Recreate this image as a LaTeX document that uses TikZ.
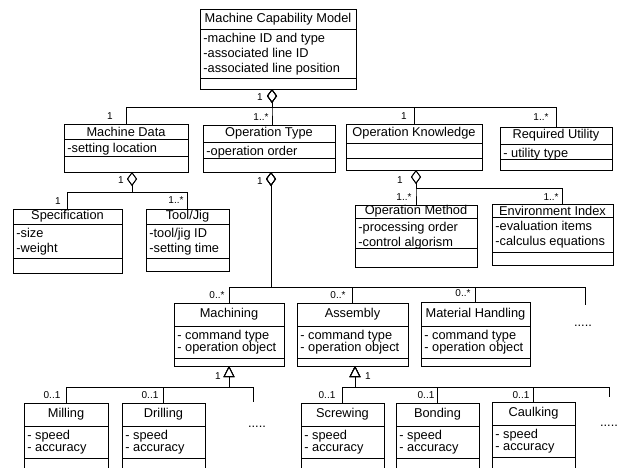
\documentclass[tikz,border=0pt]{standalone}
\usepackage{fontspec}
\setmainfont{Liberation Sans}
\usetikzlibrary{arrows.meta}
% class box: name, left, top, right, bottom, first divider, second divider, title, attributes
\newcommand\umlclass[9]{%
  \node[cls, minimum width={(#4-#2)*1pt}, minimum height={(#5-#3)*1pt}] (#1) at (#2,#3) {};
  \draw (#2,#6) -- (#4,#6) (#2,#7) -- (#4,#7);
  \node[ttl] (#1-t) at ({(#2+#4)/2},{(#3+#6)/2}) {#8};
  \node[att] (#1-a) at (#2,#6) {#9};
}

\begin{document}
\begin{tikzpicture}[x=1pt,y=-1pt,line width=0.8pt]
    \tikzstyle{cls}=[draw, rectangle, anchor=north west, inner sep=0pt, outer sep=0pt]
    \tikzstyle{ttl}=[font=\fontsize{12.8}{15}\selectfont, inner sep=0pt]
    \tikzstyle{att}=[font=\fontsize{12.8}{15}\selectfont, align=left, anchor=north west, inner xsep=3pt, inner ysep=3.5pt]
    \tikzstyle{lbl}=[font=\fontsize{10}{12}\selectfont, inner sep=0pt]
    \tikzstyle{ellip}=[font=\fontsize{12.8}{15}\selectfont, anchor=base, inner sep=0pt]
    \tikzstyle{agg}=[{Diamond[open,length=14pt,width=10pt]}-]
    \tikzstyle{gen}=[{Triangle[open,length=11pt,width=11pt]}-]

    \clip (0,0) rectangle (619,467);

    \umlclass{mcm}{200}{9}{356}{89}{29}{78}{Machine Capability Model}{-machine ID and type\\-associated line ID\\-associated line position}
    \umlclass{mdata}{64}{124}{188}{172}{139}{156}{Machine Data}{-setting location}
    \umlclass{opt}{203}{125}{335}{172}{142}{158}{Operation Type}{-operation order}
    \umlclass{ok}{346}{124}{482}{170}{143}{158}{Operation Knowledge}{}
    \umlclass{ru}{500}{127}{612}{170}{144}{159}{Required Utility}{- utility type}
    \umlclass{spec}{13}{209}{122}{273}{224}{258}{Specification}{-size\\-weight}
    \umlclass{tool}{146}{209}{229}{271}{224}{258}{Tool/Jig}{-tool/jig ID\\-setting time}
    \umlclass{om}{355}{205}{477}{267}{218}{248}{Operation Method}{-processing order\\-control algorism}
    \umlclass{ei}{492}{204}{613}{265}{217}{252}{Environment Index}{-evaluation items\\-calculus equations}
    \umlclass{mach}{174}{303}{284}{366}{326}{358}{Machining}{- command type\\[-3pt]- operation object}
    \umlclass{asm}{297}{303}{408}{366}{326}{358}{Assembly}{- command type\\[-3pt]- operation object}
    \umlclass{mh}{421}{302}{530}{366}{326}{358}{Material Handling}{- command type\\[-3pt]- operation object}
    \umlclass{mill}{24}{403}{108}{475}{426}{458}{Milling}{- speed\\[-3pt]- accuracy}
    \umlclass{drill}{122}{403}{205}{475}{426}{458}{Drilling}{- speed\\[-3pt]- accuracy}
    \umlclass{screw}{301}{403}{384}{475}{426}{458}{Screwing}{- speed\\[-3pt]- accuracy}
    \umlclass{bond}{396}{403}{479}{475}{426}{458}{Bonding}{- speed\\[-3pt]- accuracy}
    \umlclass{caulk}{492}{402}{575}{475}{425}{457}{Caulking}{- speed\\[-3pt]- accuracy}

    \coordinate (mh-more) at (585,305);
    \coordinate (mach-more) at (253,402);
    \coordinate (asm-more) at (609,397);

    % aggregations
    \draw[agg] ([xshift=-6pt]mcm.south) -- ++(0,18) -| (mdata.north);
    \draw[agg] ([xshift=-6pt]mcm.south) -- ++(0,18) -| ([xshift=3pt]opt.north);
    \draw[agg] ([xshift=-6pt]mcm.south) -- ++(0,18) -| (ok.north);
    \draw[agg] ([xshift=-6pt]mcm.south) -- ++(0,18) -| (ru.north);
    \draw[agg] ([xshift=6pt]mdata.south) -- ++(0,20) -| (spec.north);
    \draw[agg] ([xshift=6pt]mdata.south) -- ++(0,20) -| (tool.north);
    \draw[agg] ([xshift=2pt]ok.south) -- ++(0,18) -| (om.north);
    \draw[agg] ([xshift=2pt]ok.south) -- ++(0,18) -| ([xshift=10pt]ei.north);
    \draw[agg] ([xshift=2pt]opt.south) -- ++(0,115) -| (mach.north);
    \draw[agg] ([xshift=2pt]opt.south) -- ++(0,115) -| (asm.north);
    \draw[agg] ([xshift=2pt]opt.south) -- ++(0,115) -| (mh.north);
    \draw[agg] ([xshift=2pt]opt.south) -- ++(0,115) -| (mh-more);
    % generalizations
    \draw[gen] (mach.south) -- ++(0,21) -| (mill.north);
    \draw[gen] (mach.south) -- ++(0,21) -| (drill.north);
    \draw[gen] (mach.south) -- ++(0,21) -| (mach-more);
    \draw[gen] ([xshift=2.5pt]asm.south) -- ++(0,21) -| (screw.north);
    \draw[gen] ([xshift=2.5pt]asm.south) -- ++(0,21) -| (bond.north);
    \draw[gen] ([xshift=2.5pt]asm.south) -- ++(0,21) -| (caulk.north);
    \draw[gen] ([xshift=2.5pt]asm.south) -- ++(0,21) -| (asm-more);

    % multiplicities
    \node[lbl] (l-mcm)   at (260,97)  {1};
    \node[lbl] (l-mdata) at (110,116) {1};
    \node[lbl] (l-opt)   at (261,117) {1..*};
    \node[lbl] (l-ok)    at (404,116) {1};
    \node[lbl] (l-ru)    at (541,117) {1..*};
    \node[lbl] (l-md)    at (121,180) {1};
    \node[lbl] (l-spec)  at (58,201)  {1};
    \node[lbl] (l-tool)  at (176,200) {1..*};
    \node[lbl] (l-opd)   at (260,181) {1};
    \node[lbl] (l-okd)   at (400,180) {1};
    \node[lbl] (l-om)    at (404,197) {1..*};
    \node[lbl] (l-ei)    at (551,197) {1..*};
    \node[lbl] (l-mach)  at (217,295) {0..*};
    \node[lbl] (l-asm)   at (338,295) {0..*};
    \node[lbl] (l-mh)    at (463,293) {0..*};
    \node[lbl] (l-macht) at (218,376) {1};
    \node[lbl] (l-asmt)  at (368,376) {1};
    \node[lbl] (l-mill)  at (52,395)  {0..1};
    \node[lbl] (l-drill) at (150,395) {0..1};
    \node[lbl] (l-screw) at (327,395) {0..1};
    \node[lbl] (l-bond)  at (426,395) {0..1};
    \node[lbl] (l-caulk) at (521,395) {0..1};

    \node[ellip] (e-mh)   at (583,326) {.....};
    \node[ellip] (e-mach) at (257,427) {.....};
    \node[ellip] (e-asm)  at (609,426) {.....};
\end{tikzpicture}
\end{document}
